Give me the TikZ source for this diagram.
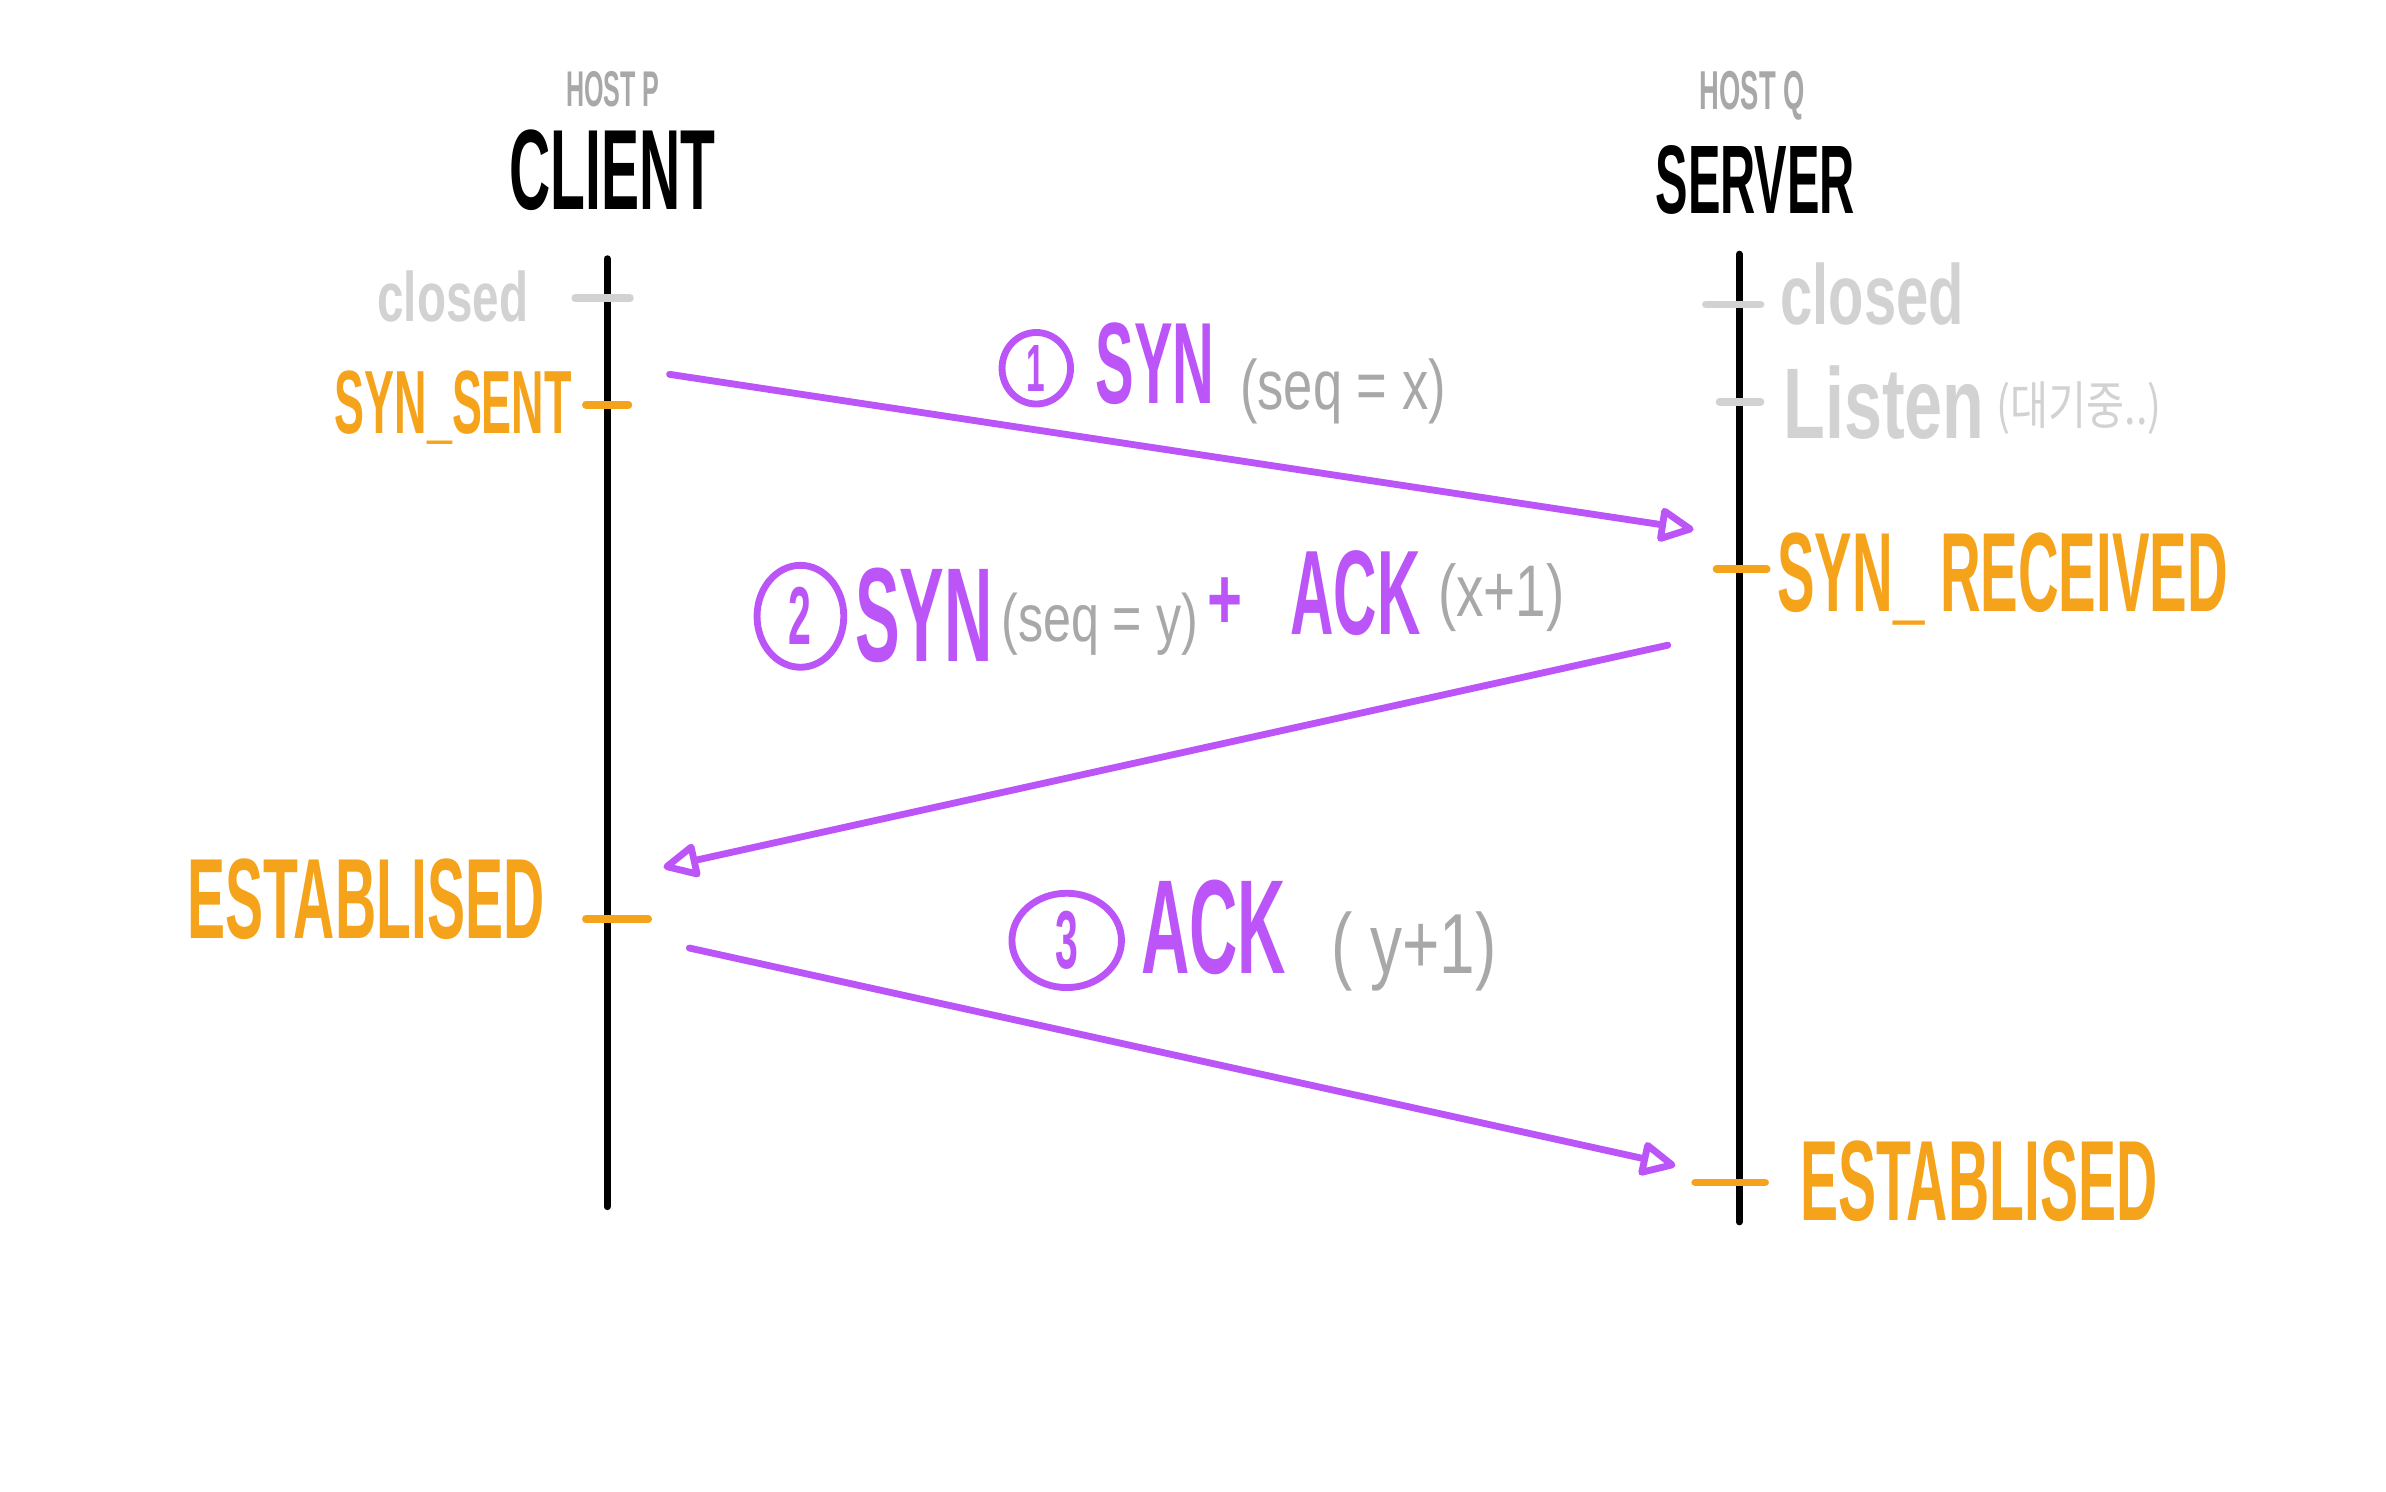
\documentclass[tikz,border=0pt]{standalone}
\usepackage{fontspec}
\setmainfont{Liberation Sans}
\newfontfamily\handC[FakeStretch=0.5]{Liberation Sans Bold}
\newfontfamily\handLB[FakeStretch=0.68]{Liberation Sans Bold}
\newfontfamily\handL[FakeStretch=0.75]{Liberation Sans}
\newfontfamily\krfont[FakeStretch=0.8]{Noto Sans CJK KR}
\usetikzlibrary{arrows.meta,shapes.geometric}
\definecolor{pur}{HTML}{BB55F7}
\definecolor{org}{HTML}{F5A31A}
\definecolor{lgray}{HTML}{D2D2D2}
\definecolor{dgray}{HTML}{A8A8A8}
\tikzset{
  txt/.style={inner sep=0pt, outer sep=0pt},
  capsz/.style={txt, font={\handC\fontsize{#1pt}{#1pt}\selectfont}},
  lowbsz/.style={txt, font={\handLB\fontsize{#1pt}{#1pt}\selectfont}},
  lowsz/.style={txt, font={\handL\fontsize{#1pt}{#1pt}\selectfont}},
  krsz/.style={txt, font={\krfont\fontsize{#1pt}{#1pt}\selectfont}},
  lifeline/.style={line width=4.5pt, line cap=round},
  tick/.style={line width=5pt, line cap=round},
  msg/.style={pur, line width=4.5pt, line cap=round,
    -{Triangle[open,length=26pt,width=24pt,round]}},
  numring/.style={ellipse, draw=pur, line width=4.5pt, text=pur, inner sep=0pt,
    font={\handC\fontsize{#1pt}{#1pt}\selectfont}},
}
\begin{document}
\begin{tikzpicture}[x=1pt,y=-1pt]
\useasboundingbox[fill=white] (0,0) rectangle (1568,980);

% headers
\node[capsz=33, text=dgray, anchor=base west] (hostp) at (372,70) {HOST P};
\node[capsz=75, anchor=base west] (client) at (335,138) {CLIENT};
\node[capsz=36, text=dgray, anchor=base west] (hostq) at (1117,72) {HOST Q};
\node[capsz=64, anchor=base west] (server) at (1088,140) {SERVER};

% lifelines
\coordinate (ctop) at (399,170);
\coordinate (cbot) at (399,793);
\coordinate (stop) at (1143,167);
\coordinate (sbot) at (1143,803);
\draw[lifeline] (ctop) -- (cbot);
\draw[lifeline] (stop) -- (sbot);

% client states
\coordinate (cc1) at (378,196); \coordinate (cc2) at (414,196);
\draw[tick, lgray] (cc1) -- (cc2);
\node[lowbsz=46, text=lgray, anchor=base west] (cclosed) at (248,211) {closed};
\coordinate (cs1) at (385,266); \coordinate (cs2) at (413,266);
\draw[tick, org] (cs1) -- (cs2);
\node[capsz=59, text=org, anchor=base west] (csent) at (220,285) {SYN\_SENT};
\coordinate (ce1) at (385,604); \coordinate (ce2) at (426,604);
\draw[tick, org] (ce1) -- (ce2);
\node[capsz=75, text=org, anchor=base west] (cest) at (123,617) {ESTABLISED};

% server states
\coordinate (sc1) at (1121,200); \coordinate (sc2) at (1157,200);
\draw[tick, lgray] (sc1) -- (sc2);
\node[lowbsz=56, text=lgray, anchor=base west] (sclosed) at (1170,213) {closed};
\coordinate (sl1) at (1130,264); \coordinate (sl2) at (1157,264);
\draw[tick, lgray] (sl1) -- (sl2);
\node[lowbsz=66, text=lgray, anchor=base west] (slisten) at (1172,288) {Listen};
\node[krsz=34, text=lgray, anchor=west] (swait) at (1312,268) {(대기중..)};
\coordinate (sr1) at (1128,374); \coordinate (sr2) at (1161,374);
\draw[tick, org] (sr1) -- (sr2);
\node[capsz=74, text=org, anchor=base west] (srecv) at (1168,402) {SYN\_ RECEIVED};
\coordinate (se1) at (1114,777); \coordinate (se2) at (1160,777);
\draw[tick, org] (se1) -- (se2);
\node[capsz=75, text=org, anchor=base west] (sest) at (1183,802) {ESTABLISED};

% messages
\coordinate (m1s) at (440,246); \coordinate (m1e) at (1113,348);
\coordinate (m2s) at (1096,424); \coordinate (m2e) at (436,570);
\coordinate (m3s) at (453,623); \coordinate (m3e) at (1101,766);
\draw[msg] (m1s) -- (m1e);
\draw[msg] (m2s) -- (m2e);
\draw[msg] (m3s) -- (m3e);

% label 1
\node[numring=44, minimum width=45pt, minimum height=47pt] (n1) at (681,242) {1};
\node[capsz=76, text=pur, anchor=base west] (syn1) at (720,265) {SYN};
\node[lowsz=46, text=dgray, anchor=west] (seq1) at (815,257) {(seq = x)};

% label 2
\node[numring=54, minimum width=57pt, minimum height=67pt] (n2) at (526,405) {2};
\node[capsz=88, text=pur, anchor=base west] (syn2) at (562,435) {SYN};
\node[lowsz=44, text=dgray, anchor=west] (seq2) at (658,410) {(seq = y)};
\node[lowbsz=58, text=pur] (plus2) at (805,397) {+};
\node[capsz=79, text=pur, anchor=base west] (ack2) at (848,417) {ACK};
\node[lowsz=48, text=dgray, anchor=west] (x1) at (945,393) {(x+1)};

% label 3
\node[numring=54, minimum width=72pt, minimum height=62pt] (n3) at (701,618) {3};
\node[capsz=88, text=pur, anchor=base west] (ack3) at (750,640) {ACK};
\node[lowsz=56, text=dgray, anchor=west] (y1) at (875,625) {( y+1)};
\end{tikzpicture}
\end{document}
